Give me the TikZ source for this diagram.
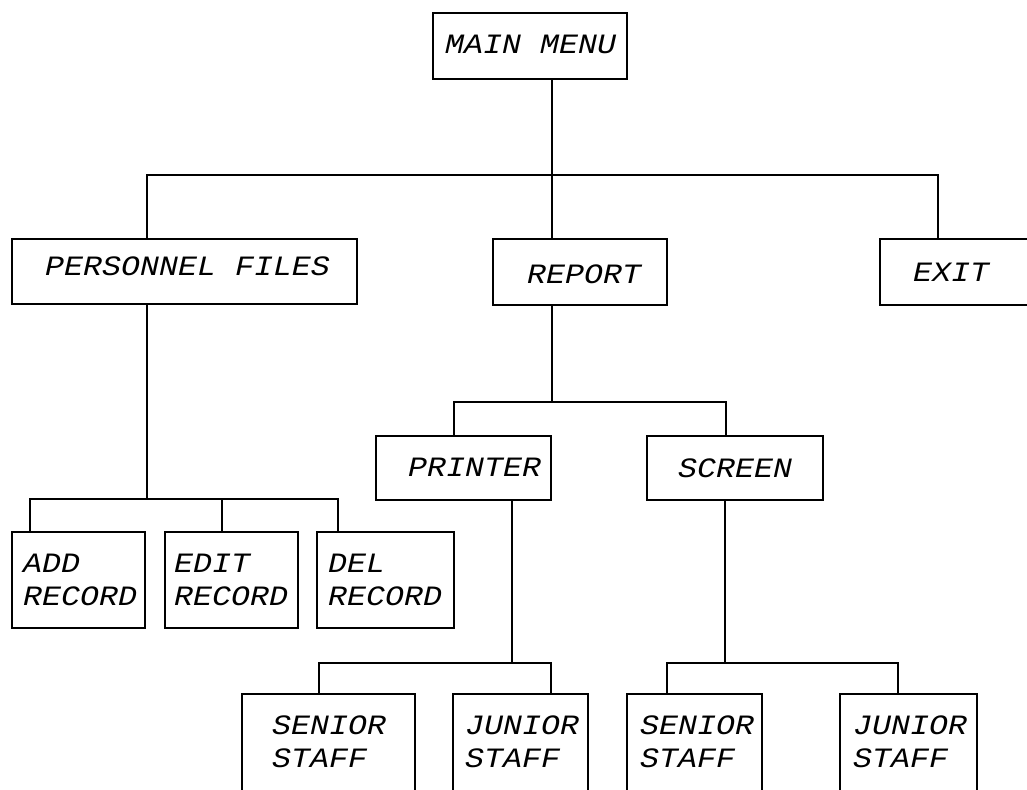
\documentclass[tikz,border=0pt]{standalone}
\usepackage{fontspec}
\newfontfamily\plotfont[FakeStretch=1.13]{Liberation Mono}
\newcommand{\mybox}[5]{%
  \node[boxst, minimum width={#4-#2}, minimum height={#5-#3}] (#1) at ({(#2+#4)/2},{(#3+#5)/2}) {};}
\begin{document}
\begin{tikzpicture}[x=1pt,y=-1pt,
  boxst/.style={draw=black, line width=1.3pt, rectangle, inner sep=0pt, outer sep=0pt},
  conn/.style={draw=black, line width=1.3pt},
  txt/.style={anchor=west, inner sep=0pt, align=left, text=black,
    font=\plotfont\itshape\fontsize{28}{33}\selectfont}]
\useasboundingbox[fill=white] (0,0) rectangle (1027,789);
% boxes
\mybox{main}{433}{13}{627}{79}
\mybox{pers}{12}{239}{357}{304}
\mybox{report}{493}{239}{667}{305}
\mybox{exit}{880}{239}{1070}{305}
\mybox{printer}{376}{436}{551}{500}
\mybox{screen}{647}{436}{823}{500}
\mybox{add}{12}{532}{145}{628}
\mybox{edit}{165}{532}{298}{628}
\mybox{del}{317}{532}{454}{628}
\mybox{senA}{242}{694}{415}{800}
\mybox{junA}{453}{694}{588}{800}
\mybox{senB}{627}{694}{762}{800}
\mybox{junB}{840}{694}{977}{800}
% texts
\node[txt] (main-t) at (445,44) {MAIN MENU};
\node[txt] (pers-t) at (45,266) {PERSONNEL FILES};
\node[txt] (report-t) at (527,274) {REPORT};
\node[txt] (exit-t) at (913,272) {EXIT};
\node[txt] (printer-t) at (408,467) {PRINTER};
\node[txt] (screen-t) at (678,468) {SCREEN};
\node[txt] (add-t) at (23,580) {ADD\\RECORD};
\node[txt] (edit-t) at (174,580) {EDIT\\RECORD};
\node[txt] (del-t) at (328,580) {DEL\\RECORD};
\node[txt] (senA-t) at (272,742) {SENIOR\\STAFF};
\node[txt] (junA-t) at (465,742) {JUNIOR\\STAFF};
\node[txt] (senB-t) at (640,742) {SENIOR\\STAFF};
\node[txt] (junB-t) at (853,742) {JUNIOR\\STAFF};
% connector points
\coordinate (t) at (552,175);
\coordinate (tL) at (147,175);
\coordinate (tR) at (938,175);
\coordinate (pb) at (147,499);
\coordinate (pL) at (30,499);
\coordinate (pM) at (222,499);
\coordinate (pR) at (338,499);
\coordinate (rb) at (552,402);
\coordinate (rL) at (454,402);
\coordinate (rR) at (726,402);
\coordinate (qb) at (512,663);
\coordinate (qL) at (319,663);
\coordinate (qR) at (551,663);
\coordinate (sb) at (725,663);
\coordinate (sL) at (667,663);
\coordinate (sR) at (898,663);
% connectors
\draw[conn] (main.south -| t) -- (report.north -| t);
\draw[conn] (pers.north -| tL) -- (tL) -- (tR) -- (exit.north -| tR);
\draw[conn] (pers.south -| pb) -- (pb);
\draw[conn] (add.north -| pL) -- (pL) -- (pR) -- (del.north -| pR);
\draw[conn] (pM) -- (edit.north -| pM);
\draw[conn] (report.south -| rb) -- (rb);
\draw[conn] (printer.north -| rL) -- (rL) -- (rR) -- (screen.north -| rR);
\draw[conn] (printer.south -| qb) -- (qb);
\draw[conn] (senA.north -| qL) -- (qL) -- (qR) -- (junA.north -| qR);
\draw[conn] (screen.south -| sb) -- (sb);
\draw[conn] (senB.north -| sL) -- (sL) -- (sR) -- (junB.north -| sR);
\end{tikzpicture}
\end{document}
